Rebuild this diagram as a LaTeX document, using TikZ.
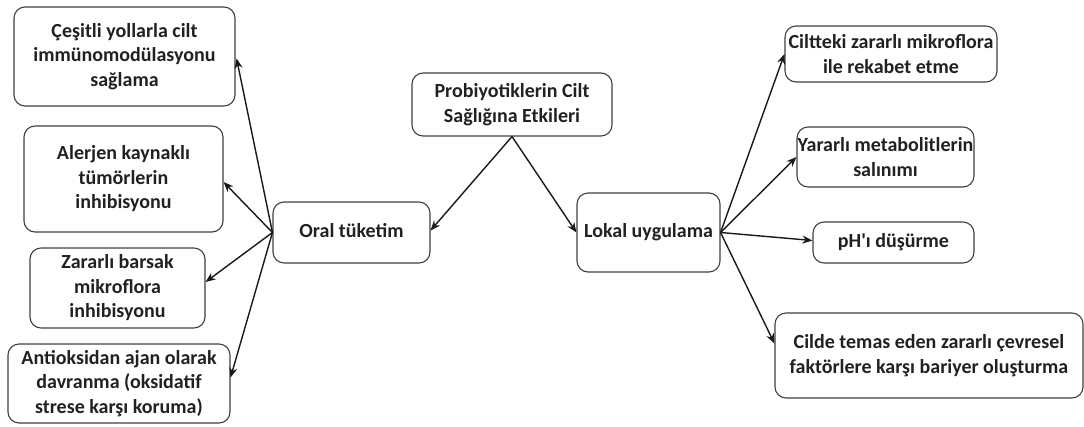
\documentclass[tikz,border=0pt]{standalone}
\usepackage{fontspec}
\setmainfont{Carlito}
\usetikzlibrary{arrows.meta,calc}
\begin{document}
\begin{tikzpicture}[x=1pt,y=-1pt,
  box/.style={draw=black!75, line width=1.1pt, rounded corners=11pt, fill=white,
    inner sep=0pt, align=center, text=black!87,
    font=\fontsize{20}{24.5}\selectfont\bfseries},
  conn/.style={draw=black!90, line width=1.4pt, -{Stealth[length=10pt,width=8pt]}}
]
\useasboundingbox (0,0) rectangle (1084,426);
% left column
\node[box, minimum width=221pt, minimum height=99pt] (A) at (124.5,56.5) {Çeşitli yollarla cilt\\immünomodülasyonu\\sağlama};
\node[box, minimum width=199pt, minimum height=106pt] (B) at (123.5,179) {Alerjen kaynaklı\\tümörlerin\\inhibisyonu};
\node[box, minimum width=175pt, minimum height=80pt] (C) at (117.5,288) {Zararlı barsak\\mikroflora\\inhibisyonu};
\node[box, minimum width=222pt, minimum height=79pt] (D) at (119,383.5) {Antioksidan ajan olarak\\davranma (oksidatif\\strese karşı koruma)};
% middle
\node[box, minimum width=157pt, minimum height=61pt] (oral) at (351.5,232.5) {\raisebox{4pt}{Oral tüketim}};
\node[box, minimum width=200pt, minimum height=63pt] (top) at (512,104.5) {Probiyotiklerin Cilt\\Sağlığına Etkileri};
\node[box, minimum width=143pt, minimum height=79pt] (lokal) at (648.5,232.5) {Lokal uygulama};
% right column
\node[box, minimum width=212pt, minimum height=56pt] (R1) at (891,54) {Ciltteki zararlı mikroflora\\ile rekabet etme};
\node[box, minimum width=177pt, minimum height=60pt] (R2) at (885.5,157) {Yararlı metabolitlerin\\salınımı};
\node[box, minimum width=161pt, minimum height=41pt] (R3) at (893.5,242.5) {pH\textquotesingle ı düşürme};
\node[box, minimum width=308pt, minimum height=85pt] (R4) at (929,355.5) {Cilde temas eden zararlı çevresel\\faktörlere karşı bariyer oluşturma};
% connectors
\draw[conn] (top.south) -- ($(oral.east)+(0,-2)$);
\draw[conn] (top.south) -- (lokal.west);
\draw[conn] (oral.west) -- ($(A.east)+(1,2)$);
\draw[conn] (oral.west) -- ($(B.east)+(0,3)$);
\draw[conn] (oral.west) -- ($(C.east)+(0,-6)$);
\draw[conn] (oral.west) -- ($(D.east)+(0,-6)$);
\draw[conn] (lokal.east) -- (R1.west);
\draw[conn] (lokal.east) -- (R2.west);
\draw[conn] (lokal.east) -- ($(R3.west)+(0,-2)$);
\draw[conn] (lokal.east) -- ($(R4.west)+(0,-12)$);
\end{tikzpicture}
\end{document}
